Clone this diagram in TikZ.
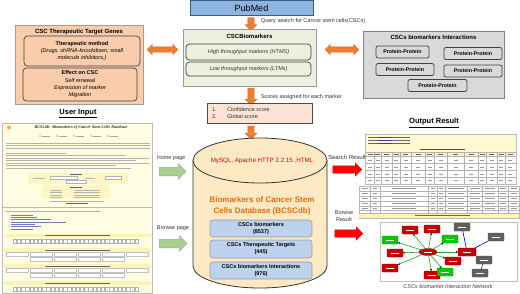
\documentclass[tikz,border=0pt]{standalone}
\usepackage{fontspec}
\setmainfont{Liberation Sans}
\newfontfamily\shotserif{Liberation Serif}
\usetikzlibrary{shapes.arrows,shapes.geometric,calc,arrows.meta}
\definecolor{pubfill}{RGB}{142,180,226}
\definecolor{publine}{RGB}{60,90,130}
\definecolor{peach}{RGB}{249,204,172}
\definecolor{lgreen}{RGB}{235,241,222}
\definecolor{lgray}{RGB}{217,217,217}
\definecolor{grayline}{RGB}{120,130,150}
\definecolor{scorefill}{RGB}{251,228,213}
\definecolor{dbfill}{RGB}{253,234,197}
\definecolor{dbblue}{RGB}{189,210,236}
\definecolor{oarr}{RGB}{237,125,49}
\definecolor{garr}{RGB}{169,209,142}
\definecolor{shotbg}{RGB}{255,253,226}
\definecolor{shotyel}{RGB}{255,243,180}
\definecolor{ttlorange}{RGB}{226,107,10}
\definecolor{netred}{RGB}{200,0,0}
\definecolor{netgreen}{RGB}{0,204,0}
\definecolor{netgray}{RGB}{96,96,96}
\definecolor{edgegreen}{RGB}{40,160,40}
\definecolor{linkblue}{RGB}{60,60,180}
\tikzset{
  frame/.style={rectangle, line width=0.7pt},
  inbox/.style={rectangle, rounded corners=3.5pt, draw=black!75, line width=0.7pt, align=center,
    font=\fontsize{5.5}{7.3}\selectfont},
  ppbox/.style={rectangle, rounded corners=2pt, draw=black!75, fill=lgray, line width=0.7pt,
    minimum height=12pt, font=\fontsize{5.3}{6}\selectfont\bfseries},
  dbbox/.style={rectangle, rounded corners=3pt, draw=gray!80, fill=dbblue, line width=0.6pt,
    minimum width=102pt, align=center, font=\fontsize{5.5}{7}\selectfont\bfseries},
  oarrow/.style={single arrow, fill=oarr, draw=oarr!85!black, line width=0.3pt, inner sep=3pt,
    single arrow head extend=2.7pt, single arrow head indent=0pt, shape border rotate=270},
  odarrow/.style={double arrow, fill=oarr, draw=oarr!85!black, line width=0.3pt, inner sep=2.5pt,
    double arrow head extend=2.5pt},
  garrow/.style={single arrow, fill=garr, draw=gray!70, line width=0.5pt, inner sep=4pt,
    single arrow head extend=3.5pt},
  rarrow/.style={single arrow, fill=red, draw=red!80!black, line width=0.3pt, inner sep=3.5pt,
    single arrow head extend=3pt},
  shot/.style={rectangle, draw=gray!55, fill=shotbg, line width=0.6pt},
  lbl/.style={font=\fontsize{5.5}{7}\selectfont, text=black!80, align=center},
  hdr/.style={font=\fontsize{7.5}{9}\selectfont\bfseries},
  nbase/.style={rectangle, rounded corners=0.8pt, line width=0.3pt, minimum width=16pt, minimum height=8pt},
  nred/.style={nbase, fill=netred, draw=netred!60!black},
  ngreen/.style={nbase, fill=netgreen, draw=netgreen!60!black},
  ngray/.style={nbase, fill=netgray, draw=black!70},
  gedge/.style={edgegreen, line width=0.6pt, -{Stealth[length=2.2pt,width=2pt,black]}},
  sline/.style={gray!60, line width=0.6pt},
}
\begin{document}
\begin{tikzpicture}[x=1pt,y=-1pt, every node/.style={inner sep=0pt, outer sep=0pt}]
\useasboundingbox (0,0) rectangle (520,293);
\fill[white] (0,0) rectangle (520,293);

% ---------- PubMed ----------
\node[frame, fill=pubfill, draw=publine, line width=0.8pt, minimum width=123pt, minimum height=15pt,
  font=\fontsize{9}{10}\selectfont] (pub) at (251.5,8) {PubMed};
\node[oarrow, minimum height=13pt] (a1) at (251,22.5) {};
\node[lbl, anchor=west] (qlbl) at (261,21) {Query search for Cancer stem cells(CSCs)};

% ---------- CSCBiomarkers ----------
\node[frame, fill=lgreen, draw=gray!80, minimum width=133pt, minimum height=57pt] (bio) at (249.5,57.5) {};
\node[font=\fontsize{6}{7}\selectfont\bfseries] (biot) at (249.5,36) {CSCBiomarkers};
\node[inbox, fill=lgreen, minimum width=125pt, minimum height=16pt, font=\fontsize{5.5}{7}\selectfont\itshape, text=black!80]
  (hts) at (248.5,52) {High throughput markers (HTMS)};
\node[inbox, fill=lgreen, minimum width=125pt, minimum height=14pt, font=\fontsize{5.5}{7}\selectfont\itshape, text=black!80]
  (lts) at (248.5,69) {Low throughput markers (LTMs)};

% ---------- Therapeutic target genes ----------
\node[frame, fill=peach, draw=gray!75, minimum width=128pt, minimum height=79pt] (ther) at (79,64.5) {};
\node[font=\fontsize{6}{7}\selectfont\bfseries] (thert) at (79,32) {CSC Therapeutic Target Genes};
\node[inbox, fill=peach, minimum width=116pt, minimum height=30pt] (tm) at (82,51)
  {{\bfseries Therapeutic method}\\{\itshape (Drugs, shRNA-knockdown, small}\\{\itshape molecule inhibitors,)}};
\node[inbox, fill=peach, minimum width=114pt, minimum height=33pt] (eff) at (80,84.5)
  {{\bfseries Effect on CSC}\\{\itshape Self renewal}\\{\itshape Expression of marker}\\{\itshape Migration}};

\node[odarrow, minimum height=31pt] (d1) at (162.5,49.5) {};

% ---------- Interactions ----------
\node[frame, fill=lgray, draw=grayline, minimum width=141pt, minimum height=67pt] (inter) at (433.5,64.5) {};
\node[font=\fontsize{6}{7}\selectfont\bfseries] (intert) at (433.5,37) {CSCs biomarkers Interactions};
\node[ppbox, minimum width=53pt] (pp1) at (402.5,52) {Protein-Protein};
\node[ppbox, minimum width=58pt] (pp2) at (473,53.5) {Protein-Protein};
\node[ppbox, minimum width=58pt] (pp3) at (405,69.5) {Protein-Protein};
\node[ppbox, minimum width=58pt] (pp4) at (473,71) {Protein-Protein};
\node[ppbox, minimum width=59pt] (pp5) at (437.5,85.5) {Protein-Protein};

\node[odarrow, minimum height=34pt] (d2) at (342,49.5) {};

% ---------- Scores ----------
\node[oarrow, minimum height=17pt] (a2) at (251,95) {};
\node[lbl, anchor=west] (slbl) at (261,97) {Scores assigned for each marker};
\node[frame, fill=scorefill, draw=black!70, minimum width=105pt, minimum height=20pt] (score) at (259.5,113.5) {};
\node[lbl, anchor=west] (s1n) at (212,109.5) {1.};
\node[lbl, anchor=west] (s1) at (227,109.5) {Confidence score};
\node[lbl, anchor=west] (s2n) at (212,117) {2.};
\node[lbl, anchor=west] (s2) at (227,117) {Global score};
\node[oarrow, minimum height=13pt] (a3) at (251,131) {};

% ---------- Database cylinder ----------
\fill[dbfill] (193,160.5) -- (193,266) arc[start angle=180, end angle=360, x radius=67pt, y radius=22pt] -- (327,160.5) -- cycle;
\draw[black!80, line width=0.8pt] (193,160.5) -- (193,266) arc[start angle=180, end angle=360, x radius=67pt, y radius=22pt] -- (327,160.5);
\draw[black!80, fill=dbfill, line width=0.8pt] (260,160.5) ellipse [x radius=67pt, y radius=22.5pt];
\node[minimum width=134pt, minimum height=152pt] (db) at (260,213) {};
\node[font=\fontsize{6.2}{7}\selectfont, text=red!85!black] (dbtech) at (262,160.5) {MySQL, Apache HTTP 2.2.15 ,HTML};
\node[font=\fontsize{8}{11}\selectfont\bfseries, text=ttlorange, align=center] (dbt) at (262,206)
  {Biomarkers of Cancer Stem\\Cells Database (BCSCdb)};
\node[dbbox, minimum height=17pt] (c1) at (261,228.5) {CSCs biomarkers\\(8537)};
\node[dbbox, minimum height=18pt] (c2) at (261,249) {CSCs Therapeutic Targets\\(445)};
\node[dbbox, minimum height=17pt] (c3) at (261,270.5) {CSCs biomarkers Interactions\\(976)};

% ---------- User input ----------
\node[hdr] (uin) at (78,113.5) {\underline{User Input}};
\node[shot, minimum width=150pt, minimum height=84pt] (hshot) at (77.5,165) {};
\fill[orange!70] (9,127.5) circle (2pt);
\node[font=\fontsize{4.2}{5}\shotserif\bfseries\itshape, text=black!80] (htitle) at (81,127.5)
  {BCSCdb: Biomarkers of Cancer Stem Cells Database};
\foreach \x in {40,57,74,91,108} {
  \fill[linkblue] (\x,136) circle (0.7pt);
  \draw[gray!70, line width=0.7pt] (\x+2,136) -- (\x+10,136);
}
\foreach \y in {143,145.5,148} \draw[sline] (6,\y) -- (150,\y);
\foreach \y/\l in {153/60,155.5/120,158/143,160.5/130,163/144,165.5/110,168/125} \draw[sline] (6,\y) -- (6+\l,\y);
\fill[shotyel!80] (28,172.5) rectangle (128,183.5);
\draw[black!60, line width=0.5pt] (70,174.5) -- (82,174.5);
\draw[sline] (33,178) -- (45,178);
\draw[gray!60, fill=white, line width=0.3pt] (50,176.5) rectangle (77,179.5);
\draw[sline] (85,178) -- (95,178);
\draw[gray!60, fill=white, line width=0.3pt] (105,176.5) rectangle (121,179.5);
\draw[gray!60, fill=white, line width=0.3pt] (66,180.5) rectangle (86,182.8);
\fill[shotyel!80] (42,185) rectangle (110,198);
\draw[black!60, line width=0.5pt] (70,187) -- (82,187);
\foreach \y in {190,192.5,195,197} { \draw[sline] (50,\y) -- (62,\y); \draw[sline] (74,\y) -- (100,\y); }
\draw[sline] (50,201) -- (104,201);
\draw[black!60, line width=0.5pt] (66,203.5) -- (88,203.5);

\node[lbl] (homel) at (171,158) {Home page};
\node[garrow, minimum height=27pt] (g1) at (170.5,171.5) {};

% browse screenshot
\node[shot, minimum width=150pt, minimum height=86pt] (bshot) at (77.5,250) {};
\draw[sline] (6,211.5) -- (100,211.5);
\foreach \i/\l in {0/22,1/26,2/40,3/55,4/24,5/30,6/22} {
  \fill[gray!70] (9,215+2.3*\i) circle (0.5pt);
  \draw[linkblue!70, line width=0.5pt] (11,215+2.3*\i) -- (11+\l,215+2.3*\i);
}
\foreach \y in {233.5,248,264,281} {
  \fill[shotyel] (4,\y) rectangle (151,\y+3.5);
  \draw[black!60, line width=0.5pt] (45,\y+1.75) -- (110,\y+1.75);
}
\foreach \i in {0,...,29} {
  \draw[gray!60, fill=white, line width=0.3pt] (13+4.2*\i,239.5) rectangle ++(3.3,4);
  \draw[gray!60, fill=white, line width=0.3pt] (13+4.2*\i,287) rectangle ++(3.3,4);
}
\foreach \y in {252.5,268.5} {
  \foreach \c in {0,...,5} \draw[gray!50, fill=white, line width=0.3pt] (6+24*\c,\y) rectangle ++(22,4);
  \foreach \c in {1,...,4} \draw[gray!50, fill=white, line width=0.3pt] (6+24*\c,\y+4.5) rectangle ++(22,4);
}
\node[lbl] (browl) at (173,228) {Browse page};
\node[garrow, minimum height=28pt] (g2) at (171,243.5) {};

% ---------- Output result ----------
\node[hdr] (outh) at (434,123) {\underline{Output Result}};
\node[lbl, font=\fontsize{6}{7}\selectfont] (srl) at (347,157) {Search Result};
\node[rarrow, minimum height=29pt] (r1) at (345.5,169.5) {};
\node[shot, minimum width=151pt, minimum height=50pt, fill=white] (oshot1) at (440.5,159) {};
\fill[shotyel!60] (365.5,134.5) rectangle (515.5,152);
\foreach \y in {137,140,143} {
  \draw[black!60, line width=0.5pt] (368,\y) -- (410,\y);
  \draw[linkblue, line width=0.6pt] (378,\y) -- (392,\y);
}
\draw[black!70, line width=0.5pt] (420,149) -- (465,149);
\fill[shotyel] (365.5,152) rectangle (515.5,156.5);
\foreach \x in {374,381,392,400,411,425,434,447,464,478,486,497,505}
  \draw[gray!60, line width=0.3pt] (\x,152) -- (\x,183.5);
\foreach \y in {152,156.5,163.5,170.5,177.5} \draw[gray!60, line width=0.3pt] (365.5,\y) -- (515.5,\y);
\foreach \y in {160,167,174,180.5}
  \foreach \x in {370,377.5,386.5,396,405.5,418,429.5,440.5,455.5,471,482,491.5,501,510}
    \draw[gray!80, line width=0.6pt] (\x-2,\y) -- (\x+2,\y);
\foreach \x in {370,377.5,386.5,396,405.5,418,429.5,440.5,455.5,471,482,491.5,501,510}
  \draw[black!60, line width=0.5pt] (\x-2.5,154.3) -- (\x+2.5,154.3);

\node[shot, minimum width=160pt, minimum height=32pt, fill=white] (oshot2) at (439,202) {};
\fill[shotyel] (359.3,213) rectangle (518.7,217.7);
\draw[black!60, line width=0.5pt] (415,215.5) -- (470,215.5);
\foreach \x in {370,380,428,437,445,467,482,498,508}
  \draw[gray!60, line width=0.3pt] (\x,186) -- (\x,213);
\foreach \y in {191,196,201,206,210.5,213} \draw[gray!60, line width=0.3pt] (359,\y) -- (519,\y);
\foreach \y in {188.5,193.5,198.5,203.5,208.2}
  \foreach \x/\w in {364.5/3,375/2,404/12,432.5/2,441/2,456/8,474.5/5,490/5,503/3,513.5/3}
    \draw[gray!80, line width=0.6pt] (\x-\w,\y) -- (\x+\w,\y);

\node[lbl, font=\fontsize{5.5}{7}\selectfont] (brl) at (344,216) {Browse\\Result};
\node[rarrow, minimum height=28pt] (r2) at (347,233.5) {};

% ---------- Network ----------
\node[rectangle, draw=gray!50, fill=white, line width=0.8pt, minimum width=137pt, minimum height=59pt] (net) at (448.5,251.5) {};
\node[ellipse, fill=netred, draw=netred!60!black, line width=0.3pt, minimum width=18pt, minimum height=7pt] (hub) at (428,252) {};
\node[nred] (n1) at (410,230) {};
\node[nred] (n2) at (432,229) {};
\node[ngreen] (n3) at (390,240) {};
\node[ngreen] (n4) at (450,239) {};
\node[nred] (n5) at (395,253) {};
\node[nred] (n6) at (390,268) {};
\node[nred] (n7) at (432,275) {};
\node[nred, minimum width=18pt] (n8) at (467,252) {};
\node[nred] (n9) at (453,261) {};
\node[ngreen] (n10) at (445,272) {};
\node[ngray] (m1) at (462,227) {};
\node[ngray] (m2) at (496,237) {};
\node[ngray] (m3) at (484,260) {};
\node[ngray] (m4) at (480,273) {};
\foreach \n in {n1,n2,n3,n4,n5,n6,n7,n8,n9,n10} \draw[gedge] (hub) -- (\n);
\draw[blue!75!black, line width=0.6pt] (m1) -- (n8);
\draw[blue!75!black, line width=0.6pt] (m2) -- (n8);
\draw[violet, line width=0.6pt] (m3) -- (m4);
\foreach \n in {hub,n1,n2,n3,n4,n5,n6,n7,n8,n9,n10,m1,m2,m3,m4}
  \draw[white, line width=0.6pt] ($(\n)+(-4,0)$) -- ($(\n)+(4,0)$);
\node[font=\fontsize{5.5}{7}\selectfont\itshape, text=black!75] (cap) at (448,287) {CSCs biomarker Interaction Network};
\end{tikzpicture}
\end{document}
